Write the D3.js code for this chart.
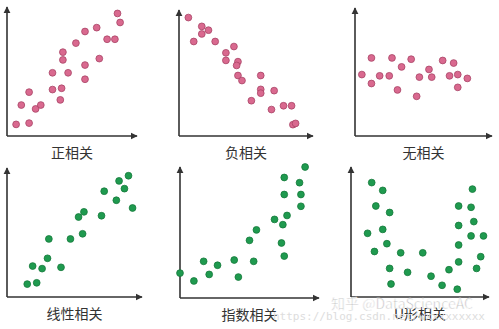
<!DOCTYPE html>
<html>
<head>
<meta charset="utf-8">
<script src="https://cdn.jsdelivr.net/npm/d3@7"></script>
<style>
  body { margin: 0; background: #fff; }
  svg { display: block; }
</style>
</head>
<body>
<svg id="chart" width="499" height="329"></svg>
<script>
// six scatter examples, values on a 0-10 scale
const titles = ['正相关', '负相关', '无相关', '线性相关', '指数相关', 'U形相关'];

const positiveX = [0.7, 1.7, 1.1, 1.7, 2.2, 2.6, 3.5, 3.5, 4.1, 4.2, 4.7, 4.3, 4.3, 5.3, 6.0, 6.0, 6.0, 6.9, 7.1, 7.7, 8.3, 8.5, 8.7];
const positiveY = [0.9, 1.0, 2.4, 3.4, 2.1, 2.4, 3.6, 4.9, 2.8, 3.7, 4.9, 5.9, 6.5, 7.2, 8.1, 5.5, 4.4, 8.4, 6.0, 7.5, 7.5, 9.5, 8.8];

const negativeX = [0.7, 1.7, 2.2, 1.7, 1.1, 2.7, 4.1, 3.5, 3.5, 4.4, 4.3, 4.4, 4.7, 6.1, 6.1, 6.1, 7.1, 5.4, 6.9, 7.8, 8.4, 8.5, 8.7];
const negativeY = [9.4, 8.7, 8.4, 8.1, 7.5, 7.5, 7.1, 6.6, 6.0, 5.9, 5.6, 4.8, 4.4, 4.8, 3.7, 3.4, 3.6, 2.8, 2.1, 2.4, 2.4, 0.9, 1.0];

const noneX = [0.5, 1.2, 1.2, 1.8, 2.5, 2.7, 3.1, 3.4, 4.1, 4.5, 4.7, 5.4, 5.6, 6.4, 6.9, 7.2, 7.5, 7.5, 8.2];
const noneY = [4.8, 6.1, 4.1, 4.7, 4.7, 6.1, 3.6, 5.4, 6.0, 3.1, 4.6, 5.2, 4.6, 5.9, 4.7, 5.7, 4.8, 3.8, 4.5];

const linearX = [1.5, 2.2, 1.9, 2.6, 3.0, 4.0, 3.1, 4.7, 5.6, 5.3, 5.7, 7.0, 7.2, 8.1, 8.3, 8.7, 9.0, 9.3];
const linearY = [1.0, 1.1, 2.4, 2.2, 3.0, 2.3, 4.5, 4.5, 4.9, 6.2, 6.6, 6.3, 8.2, 7.5, 9.0, 8.4, 9.4, 6.9];

const expX = [0.0, 1.0, 1.7, 2.1, 2.7, 3.9, 4.2, 5.3, 5.0, 5.5, 6.8, 7.4, 7.7, 7.3, 7.5, 7.5, 7.5, 8.6, 8.7, 8.7, 9.0];
const expY = [1.9, 1.3, 2.8, 1.8, 2.5, 2.9, 1.6, 2.8, 4.4, 5.2, 6.0, 5.6, 6.3, 4.2, 3.2, 9.2, 7.9, 8.8, 7.9, 7.0, 10.0];

const uX = [1.5, 2.3, 1.8, 2.8, 1.2, 2.3, 2.6, 1.7, 3.6, 2.8, 2.9, 4.1, 5.2, 5.8, 6.6, 7.1, 7.7, 7.8, 7.8, 7.8, 7.8, 8.8, 8.7, 8.9, 8.7, 9.6, 9.4, 9.1];
const uY = [8.8, 8.2, 7.0, 6.5, 4.9, 5.2, 4.1, 3.5, 3.4, 2.2, 1.0, 1.9, 3.4, 1.6, 0.9, 2.1, 0.6, 2.7, 4.0, 5.5, 7.0, 8.3, 6.9, 5.8, 4.7, 4.7, 3.1, 2.2];

const seriesX = [positiveX, negativeX, noneX, linearX, expX, uX];
const seriesY = [positiveY, negativeY, noneY, linearY, expY, uY];

// panel frames: left, right (arrow tip), top (arrow tip), bottom (x axis)
const panels = [
  { l: 7, r: 137, t: 7, b: 136 },
  { l: 179, r: 313, t: 10, b: 136 },
  { l: 355, r: 492, t: 8, b: 136 },
  { l: 7, r: 142, t: 168, b: 297 },
  { l: 180, r: 319, t: 167, b: 298 },
  { l: 351, r: 489, t: 167, b: 297 }
];

const pink = { fill: '#d9698f', stroke: '#a84466' };
const green = { fill: '#1f9a4f', stroke: '#157a3b' };

const svg = d3.select('#chart');

svg.append('defs').append('marker')
    .attr('id', 'arrow')
    .attr('viewBox', '0 0 10 10')
    .attr('refX', 9)
    .attr('refY', 5)
    .attr('markerWidth', 4.5)
    .attr('markerHeight', 4.5)
    .attr('markerUnits', 'strokeWidth')
    .attr('orient', 'auto')
  .append('path')
    .attr('d', 'M0,0 L10,5 L0,10 Z')
    .attr('fill', '#333');

panels.forEach((p, i) => {
    const x = d3.scaleLinear().domain([0, 10]).range([p.l, p.r]);
    const y = d3.scaleLinear().domain([0, 10]).range([p.b, p.t]);
    const col = i < 3 ? pink : green;
    const g = svg.append('g');

    // axes with arrow heads
    g.append('line')
        .attr('x1', x(0)).attr('y1', y(0))
        .attr('x2', x(0)).attr('y2', y(10))
        .attr('stroke', '#333').attr('stroke-width', 1.6)
        .attr('marker-end', 'url(#arrow)');
    g.append('line')
        .attr('x1', x(0)).attr('y1', y(0))
        .attr('x2', x(10)).attr('y2', y(0))
        .attr('stroke', '#333').attr('stroke-width', 1.6)
        .attr('marker-end', 'url(#arrow)');

    const pts = seriesX[i].map((v, k) => ({ x: v, y: seriesY[i][k] }));
    g.selectAll('circle')
        .data(pts)
        .enter()
        .append('circle')
        .attr('cx', d => x(d.x))
        .attr('cy', d => y(d.y))
        .attr('r', 3.4)
        .attr('fill', col.fill)
        .attr('stroke', col.stroke)
        .attr('stroke-width', 0.8);

    g.append('text')
        .attr('x', (p.l + p.r) / 2 + (i == 2 ? 0 : 0))
        .attr('y', p.b + 22)
        .attr('text-anchor', 'middle')
        .attr('font-family', '"Noto Sans CJK SC", sans-serif')
        .attr('font-size', 14)
        .attr('fill', '#333')
        .text(titles[i]);
});

// watermarks
svg.append('text')
    .attr('x', 273).attr('y', 320)
    .attr('font-family', '"DejaVu Sans Mono", monospace')
    .attr('font-size', 11)
    .attr('fill', '#ddd')
    .text('https://blog.csdn.net/wxxxxxxxxx');

svg.append('text')
    .attr('x', 331).attr('y', 309)
    .attr('font-family', '"Noto Sans CJK SC", sans-serif')
    .attr('font-size', 14)
    .attr('fill', '#aaa')
    .attr('stroke', '#fff')
    .attr('stroke-width', 0.6)
    .attr('opacity', 0.85)
    .text('知乎 @DataScienceAC');
</script>
</body>
</html>
